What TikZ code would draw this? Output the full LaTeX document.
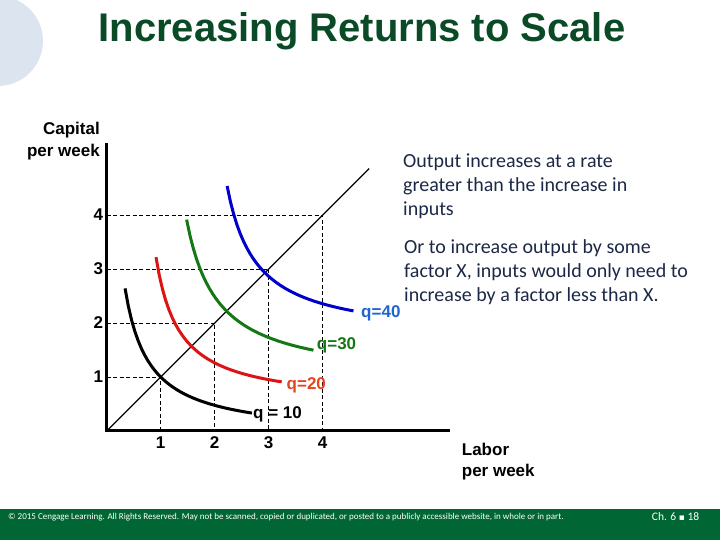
\documentclass[tikz,border=0pt]{standalone}
\usepackage{fontspec}
\usepackage{tikz}
\setmainfont{Liberation Sans}
\newfontfamily\bodyfont{Carlito}
\newfontfamily\symbfont{DejaVu Sans}

\definecolor{titlegreen}{RGB}{10,74,38}
\definecolor{bargreen}{RGB}{0,102,51}
\definecolor{circblue}{RGB}{220,228,240}
\definecolor{textnavy}{RGB}{28,40,70}
\definecolor{curveblue}{RGB}{0,0,204}
\definecolor{labblue}{RGB}{30,100,210}
\definecolor{curvegreen}{RGB}{20,120,20}
\definecolor{curvered}{RGB}{220,20,20}
\definecolor{labred}{RGB}{225,70,30}

\tikzset{
  axislabel/.style={font=\bfseries\fontsize{17bp}{21.5bp}\selectfont, inner sep=0pt},
  isoquant/.style={line width=3bp},
  guide/.style={dash pattern=on 4bp off 2.5bp, line width=0.8bp},
  qlabel/.style={font=\bfseries\fontsize{17bp}{20bp}\selectfont, anchor=west, inner sep=0pt},
  note/.style={font=\bodyfont\fontsize{20bp}{24bp}\selectfont, text=textnavy, align=left, anchor=north west, inner sep=0pt},
}

\begin{document}
\begin{tikzpicture}
\useasboundingbox (0,0) rectangle (720bp,540bp);
\fill [circblue] (-2bp,499bp) circle (45bp);
\fill [bargreen] (0,0) rectangle (720bp,31bp);
\node [anchor=base west, inner sep=0pt, text=titlegreen, font=\bfseries\fontsize{40bp}{48bp}\selectfont] (title) at (98.3bp,498.3bp) {Increasing Returns to Scale};

\begin{scope}[shift={(106.7bp,109bp)}, x=54bp, y=54bp]
% dashed guides to the ray
\foreach \k in {1,...,4}
  \draw [guide] (0,\k) -- (\k,\k) -- (\k,0);
\draw [line width=1.3bp] (0,0) -- (4.86,4.86);
% isoquants, k = a + c/(l - a)
\draw [isoquant, black] plot [domain=0.34:2.69, samples=40] (\x, {-0.104+1.2188/(\x+0.104)});
\draw [isoquant, curvered] plot [domain=0.913:3.24, samples=40] (\x, {0.478+1.1925/(\x-0.478)});
\draw [isoquant, curvegreen] plot [domain=1.48:3.83, samples=40] (\x, {0.906+1.7266/(\x-0.906)});
\draw [isoquant, curveblue] plot [domain=2.23:4.57, samples=40] (\x, {1.69+1.5376/(\x-1.69)});
\draw [line width=3bp] (0,5.33) -- (0,0) -- (6.36,0);
\foreach \k in {1,...,4} {
  \node [axislabel] (ytick\k) at (-0.156,\k) {\k};
  \node [axislabel] (xtick\k) at (\k,-0.222) {\k};
}
\node [qlabel, black] (q10) at (2.71,0.315) {q = 10};
\node [qlabel, labred] (q20) at (3.33,0.85) {q=20};
\node [qlabel, curvegreen] (q30) at (3.89,1.59) {q=30};
\node [qlabel, labblue] (q40) at (4.71,2.185) {q=40};
\end{scope}

\node [axislabel, align=right, anchor=north east] (capital) at (100bp,417.9bp) {Capital\\per week};
\node [axislabel, align=left, anchor=north west] (labor) at (461.7bp,97.5bp) {Labor\\per week};

\node [note] (rate) at (403bp,386.5bp) {Output increases at a rate\\greater than the increase in\\inputs};
\node [note] (factor) at (404bp,300.7bp) {Or to increase output by some\\factor X, inputs would only need to\\increase by a factor less than X.};

\node [anchor=west, inner sep=0pt, text=white, font=\bodyfont\fontsize{9bp}{11bp}\selectfont] (legal) at (8bp,23bp) {© 2015 Cengage Learning. All Rights Reserved. May not be scanned, copied or duplicated, or posted to a publicly accessible website, in whole or in part.};
\node [anchor=west, inner sep=0pt, text=white, font=\bodyfont\fontsize{11.5bp}{13bp}\selectfont] (page) at (651.7bp,23bp) {Ch. 6 {\symbfont\fontsize{9bp}{10bp}\selectfont ▪} 18};
\end{tikzpicture}
\end{document}
